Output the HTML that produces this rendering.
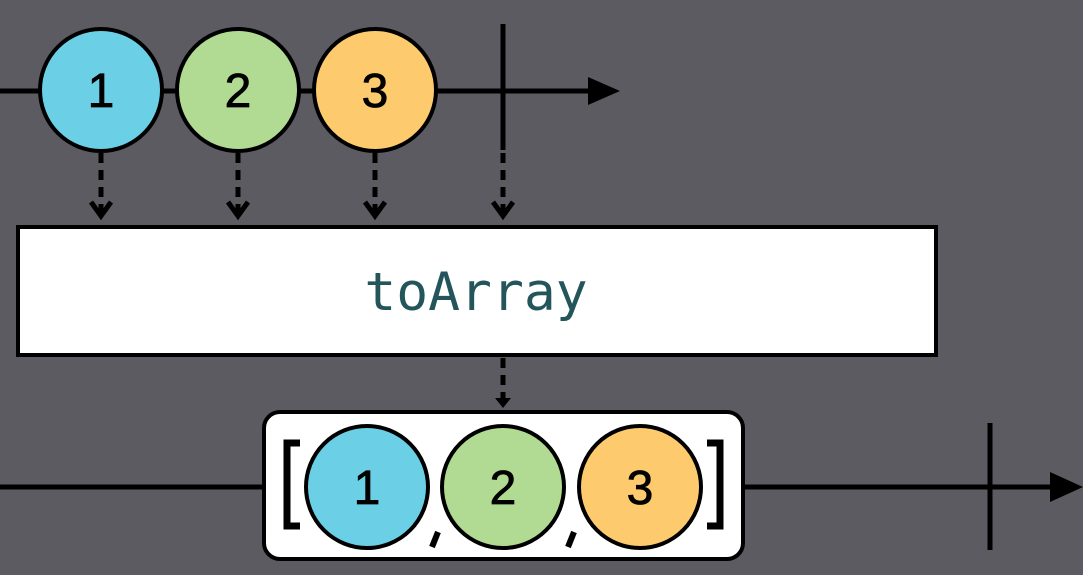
<!DOCTYPE html>
<html><head><style>body{margin:0;background:#5c5b61;}svg{display:block}</style></head><body>
<svg width="1083" height="575" viewBox="0 0 1083 575" xmlns="http://www.w3.org/2000/svg">
<rect width="1083" height="575" fill="#5c5b61"/>
<line x1="0" y1="91" x2="595" y2="91" stroke="#000" stroke-width="5"/>
<polygon points="588,77 620,91 588,105" fill="#000"/>
<line x1="503" y1="24" x2="503" y2="150" stroke="#000" stroke-width="5"/>
<g stroke="#000" stroke-width="4">
<circle cx="101" cy="90" r="61" fill="#6bcfe6"/>
<circle cx="238" cy="90" r="61" fill="#b1da92"/>
<circle cx="375" cy="90" r="61" fill="#fdcb6e"/>
</g>
<g font-family="Liberation Sans Narrow, Liberation Sans, sans-serif" font-size="48" text-anchor="middle" fill="#000" stroke="#000" stroke-width="0.8">
<text x="101" y="107">1</text><text x="238" y="107">2</text><text x="375" y="107">3</text>
</g>
<g stroke="#000" stroke-width="5" fill="none">
<g stroke-dasharray="10,7">
<line x1="101" y1="153" x2="101" y2="212"/><line x1="238" y1="153" x2="238" y2="212"/>
<line x1="375" y1="153" x2="375" y2="212"/><line x1="503" y1="153" x2="503" y2="212"/>
<line x1="503" y1="358" x2="503" y2="400"/>
</g>
<polyline points="91,202 101,216 111,202"/><polyline points="228,202 238,216 248,202"/>
<polyline points="365,202 375,216 385,202"/><polyline points="493,202 503,216 513,202"/>
</g>
<polygon points="495,398 511,398 503,408" fill="#000"/>
<rect x="18" y="227" width="918" height="128" fill="#fff" stroke="#000" stroke-width="4"/>
<text x="476" y="310" font-family="DejaVu Sans Mono, Liberation Mono, monospace" font-size="53" text-anchor="middle" fill="#24555a">toArray</text>
<line x1="0" y1="487" x2="1055" y2="487" stroke="#000" stroke-width="5"/>
<polygon points="1050,472 1083,487 1050,502" fill="#000"/>
<line x1="990" y1="423" x2="990" y2="550" stroke="#000" stroke-width="5"/>
<rect x="264" y="412" width="479" height="147" rx="16" fill="#fff" stroke="#000" stroke-width="4"/>
<g stroke="#000" stroke-width="4">
<circle cx="367" cy="487" r="61" fill="#6bcfe6"/>
<circle cx="503" cy="487" r="61" fill="#b1da92"/>
<circle cx="640" cy="487" r="61" fill="#fdcb6e"/>
</g>
<g font-family="Liberation Sans Narrow, Liberation Sans, sans-serif" font-size="48" text-anchor="middle" fill="#000" stroke="#000" stroke-width="0.8">
<text x="367" y="504">1</text><text x="503" y="504">2</text><text x="640" y="504">3</text>
</g>
<polyline points="300,443 287,443 287,526 300,526" fill="none" stroke="#000" stroke-width="7"/>
<polyline points="707,443 720,443 720,526 707,526" fill="none" stroke="#000" stroke-width="7"/>
<line x1="438" y1="532" x2="432" y2="547" stroke="#000" stroke-width="6"/>
<line x1="574" y1="532" x2="568" y2="547" stroke="#000" stroke-width="6"/>
</svg>
</body></html>
